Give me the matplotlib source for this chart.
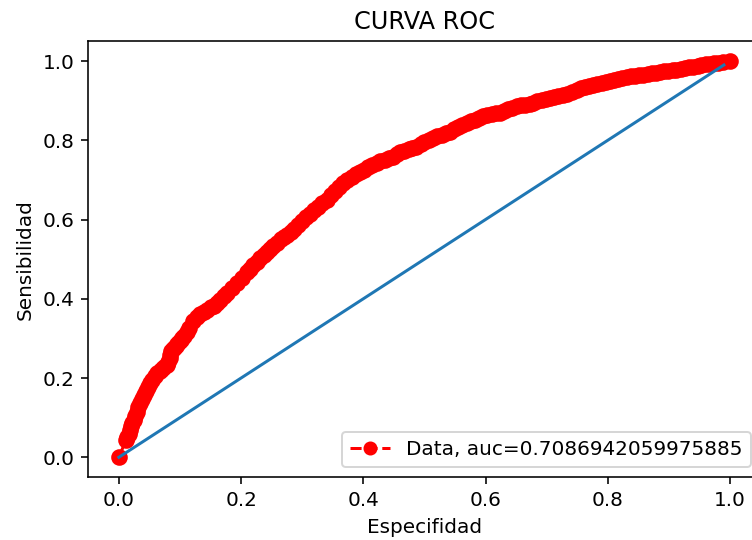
import matplotlib
matplotlib.use("Agg")
import matplotlib.pyplot as plt

# puntos de la curva ROC
fpr = [0.0, 0.012, 0.014, 0.016, 0.018, 0.020, 0.022, 0.024, 0.026, 0.029,
       0.032, 0.035, 0.038, 0.041, 0.044, 0.047, 0.051, 0.055, 0.059, 0.063,
       0.067, 0.070, 0.074, 0.078, 0.081, 0.083, 0.084, 0.085, 0.088, 0.090,
       0.093, 0.095, 0.098, 0.101, 0.104, 0.107, 0.111,
       0.115, 0.122, 0.128, 0.133, 0.139, 0.145, 0.150, 0.155, 0.161, 0.166,
       0.172, 0.177, 0.185, 0.193, 0.201, 0.209, 0.215, 0.220, 0.226, 0.231,
       0.237, 0.242, 0.248, 0.253, 0.259, 0.265, 0.270, 0.275, 0.281, 0.286,
       0.293, 0.300, 0.307, 0.313, 0.320, 0.326, 0.333, 0.340, 0.347, 0.353,
       0.360, 0.367, 0.374, 0.381, 0.388, 0.395, 0.401, 0.408, 0.415, 0.422,
       0.428, 0.435, 0.442, 0.449, 0.455, 0.460, 0.467, 0.474, 0.480, 0.487,
       0.494, 0.500, 0.507, 0.514, 0.521, 0.528, 0.535, 0.542, 0.548, 0.555,
       0.562, 0.569, 0.576, 0.583, 0.590, 0.596, 0.603, 0.610, 0.617, 0.624,
       0.631, 0.637, 0.644, 0.651, 0.658, 0.665, 0.672, 0.678, 0.685, 0.692,
       0.699, 0.705, 0.712, 0.719, 0.726, 0.733, 0.741, 0.749, 0.756, 0.762,
       0.769, 0.776, 0.783, 0.790, 0.797, 0.803, 0.810, 0.817, 0.824, 0.831,
       0.838, 0.844, 0.851, 0.858, 0.865, 0.872, 0.879, 0.885, 0.892, 0.899,
       0.906, 0.912, 0.919, 0.926, 0.933, 0.940, 0.947, 0.953, 0.960, 0.967,
       0.974, 0.980, 0.988, 1.0]
tpr = [0.0, 0.044, 0.052, 0.060, 0.069, 0.078, 0.086, 0.094, 0.104, 0.115,
       0.126, 0.136, 0.147, 0.157, 0.168, 0.178, 0.187, 0.196, 0.204, 0.212,
       0.217, 0.222, 0.227, 0.232, 0.241, 0.250, 0.259, 0.268, 0.273, 0.277,
       0.281, 0.285, 0.290, 0.295, 0.300, 0.305, 0.315,
       0.325, 0.345, 0.354, 0.362, 0.367, 0.372, 0.378, 0.383, 0.390, 0.398,
       0.406, 0.414, 0.427, 0.440, 0.453, 0.467, 0.476, 0.485, 0.494, 0.502,
       0.510, 0.518, 0.525, 0.532, 0.541, 0.550, 0.556, 0.561, 0.569, 0.577,
       0.587, 0.596, 0.606, 0.615, 0.624, 0.632, 0.641, 0.650, 0.661, 0.672,
       0.682, 0.692, 0.700, 0.708, 0.714, 0.720, 0.726, 0.732, 0.737, 0.742,
       0.747, 0.751, 0.755, 0.759, 0.765, 0.770, 0.774, 0.777, 0.781, 0.784,
       0.790, 0.795, 0.800, 0.805, 0.810, 0.814, 0.818, 0.822, 0.828, 0.833,
       0.838, 0.843, 0.848, 0.852, 0.856, 0.860, 0.863, 0.866, 0.868, 0.869,
       0.874, 0.878, 0.882, 0.886, 0.888, 0.890, 0.892, 0.894, 0.898, 0.901,
       0.904, 0.907, 0.910, 0.912, 0.915, 0.917, 0.923, 0.928, 0.931, 0.934,
       0.937, 0.940, 0.943, 0.945, 0.948, 0.950, 0.953, 0.955, 0.958, 0.960,
       0.962, 0.963, 0.964, 0.965, 0.967, 0.969, 0.971, 0.973, 0.975, 0.976,
       0.977, 0.978, 0.980, 0.982, 0.984, 0.986, 0.988, 0.990, 0.992, 0.993,
       0.995, 0.996, 0.998, 1.0]
auc = 0.7086942059975885
diag = [0.0, 0.99]

fig = plt.figure(figsize=(752 / 144, 540 / 144), dpi=144)
ax = fig.add_axes([0.1174, 0.1165, 0.894, 0.8072])

ax.plot(fpr, tpr, 'r--o', markersize=7.3, label="Data, auc=" + str(auc))
ax.plot(diag, diag)
ax.set_title("CURVA ROC")
ax.set_xlabel("Especifidad")
ax.set_ylabel("Sensibilidad")
leg = ax.legend(loc=4)
leg.legend_handles[0].set_markersize(6)

fig.savefig("out.png", dpi=144)
